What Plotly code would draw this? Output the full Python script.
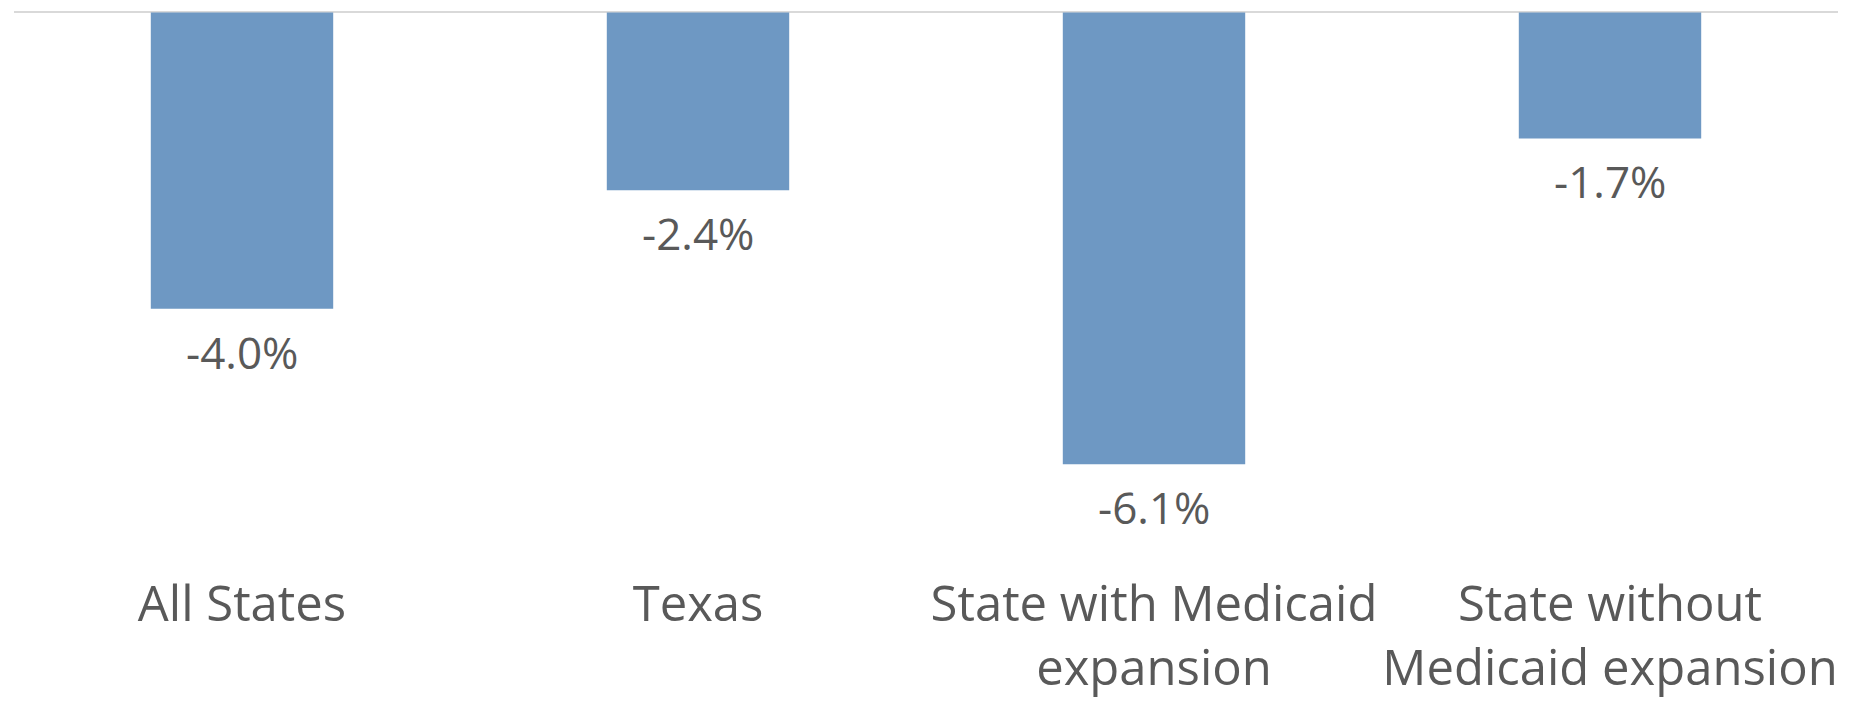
import plotly.graph_objects as go

categories = ["All States", "Texas", "State with Medicaid<br>expansion", "State without<br>Medicaid expansion"]
values = [-4.0, -2.4, -6.1, -1.7]
labels = ["-4.0%", "-2.4%", "-6.1%", "-1.7%"]

fig = go.Figure(go.Bar(
    x=categories,
    y=values,
    marker=dict(color="#6E98C3", line=dict(width=0)),
    cliponaxis=False,
    hoverinfo="skip",
))

for c, v, t in zip(categories, values, labels):
    fig.add_annotation(x=c, y=v, text=t, showarrow=False, yanchor="top",
                       yshift=-11,
                       font=dict(family="Open Sans", size=44, color="#595959"))

fig.update_layout(
    width=1850, height=704,
    margin=dict(l=14, r=12, t=11, b=173, autoexpand=False),
    paper_bgcolor="white", plot_bgcolor="white",
    bargap=0.6,
    showlegend=False,
    font=dict(family="Open Sans", color="#595959"),
)
fig.update_yaxes(range=[-7.0, 0.02], showgrid=False, showticklabels=False,
                 zeroline=True, zerolinecolor="#D9D9D9", zerolinewidth=2,
                 automargin=False)
fig.update_xaxes(showgrid=False, showline=False, ticks="", ticklabelstandoff=40,
                 automargin=False,
                 tickfont=dict(family="Open Sans", size=49, color="#595959"))

fig.write_html("out.html")
